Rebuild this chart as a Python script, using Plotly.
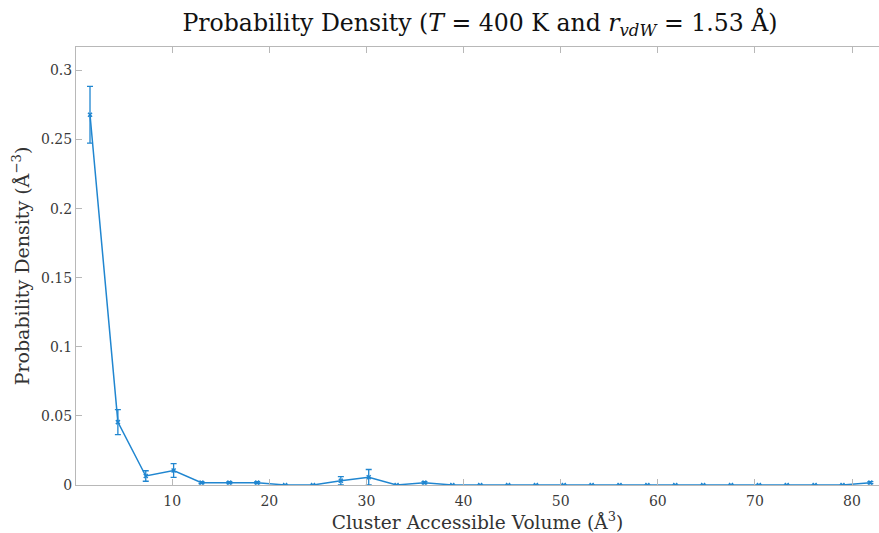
import plotly.graph_objects as go

volume = [1.53, 4.40, 7.27, 10.14, 13.01, 15.88, 18.75, 21.62, 24.49, 27.36,
          30.23, 33.10, 35.97, 38.84, 41.71, 44.58, 47.45, 50.32, 53.19, 56.06,
          58.93, 61.80, 64.67, 67.54, 70.41, 73.28, 76.15, 79.02, 81.89]
density = [0.268, 0.0455, 0.0065, 0.0105, 0.0017, 0.0017, 0.0017, 0.0, 0.0, 0.0031,
           0.0056, 0.0, 0.0017, 0.0, 0.0, 0.0, 0.0, 0.0, 0.0, 0.0,
           0.0, 0.0, 0.0, 0.0, 0.0, 0.0, 0.0, 0.0, 0.0017]
err = [0.0205, 0.0091, 0.0038, 0.005, 0.0007, 0.0007, 0.0007, 0.0, 0.0, 0.003,
       0.0056, 0.0, 0.0007, 0.0, 0.0, 0.0, 0.0, 0.0, 0.0, 0.0,
       0.0, 0.0, 0.0, 0.0, 0.0, 0.0, 0.0, 0.0, 0.0007]
x_ticks = [10, 20, 30, 40, 50, 60, 70, 80]
y_ticks = [0, 0.05, 0.1, 0.15, 0.2, 0.25, 0.3]
y_tick_text = ["0", "0.05", "0.1", "0.15", "0.2", "0.25", "0.3"]

color = "#2086d0"
serif = "DejaVu Serif, Liberation Serif, serif"
axis_col = "#b8b8b8"

fig = go.Figure(go.Scatter(
    x=volume, y=density, mode="lines+markers",
    line=dict(color=color, width=1.5),
    marker=dict(symbol="x-thin", size=4, line=dict(color=color, width=1.5), color=color),
    error_y=dict(type="data", array=err, visible=True, color=color, thickness=1.3, width=3),
    showlegend=False,
))

fig.update_layout(
    width=879, height=533,
    margin=dict(l=76, r=0, t=47, b=48),
    paper_bgcolor="white", plot_bgcolor="white",
    font=dict(family=serif, color="#262626"),
    title=dict(
        text="Probability Density (<i>T</i> = 400 K and <i>r</i><sub><i>vdW</i></sub> = 1.53 Å)",
        x=0.546, xanchor="center", y=0.957, yanchor="middle",
        font=dict(family=serif, size=23.6, color="#111111"),
    ),
    xaxis=dict(
        range=[0.087, 82.78], tickvals=x_ticks, ticks="inside", ticklen=6,
        tickcolor=axis_col, showline=True, linecolor=axis_col, linewidth=1,
        mirror="ticks", showgrid=False, zeroline=False, ticklabelstandoff=3,
        tickfont=dict(family=serif, size=14, color="#3a3a3a"),
        title=dict(text="Cluster Accessible Volume (Å<sup>3</sup>)", standoff=6,
                   font=dict(family=serif, size=18.6, color="#333333")),
    ),
    yaxis=dict(
        range=[0, 0.317], tickvals=y_ticks, ticktext=y_tick_text, ticks="inside", ticklen=6,
        tickcolor=axis_col, showline=True, linecolor=axis_col, linewidth=1,
        mirror=False, showgrid=False, zeroline=False,
        tickfont=dict(family=serif, size=14, color="#3a3a3a"),
        title=dict(text="Probability Density (Å<sup>−3</sup>)", standoff=6,
                   font=dict(family=serif, size=19, color="#333333")),
    ),
)

fig.write_html("out.html")
